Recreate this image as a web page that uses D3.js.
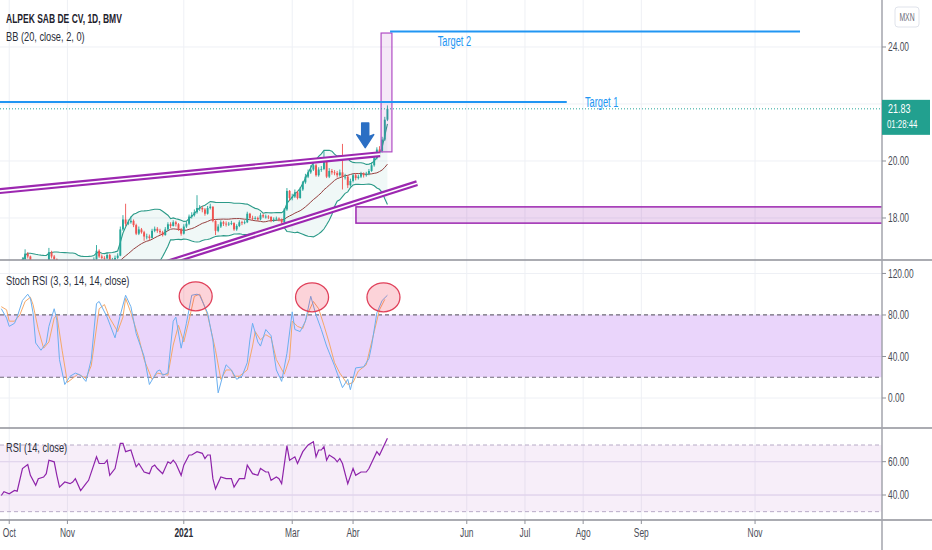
<!DOCTYPE html>
<html><head><meta charset="utf-8">
<script src="https://cdn.jsdelivr.net/npm/d3@7"></script>
<style>body{margin:0;background:#fff;} svg{display:block;font-family:"Liberation Sans",Arial,sans-serif;}</style>
</head><body><svg id="c" width="932" height="550"></svg>
<script>
// ---------------- DATA ----------------
const startDate = "2020-09-28";   // first bar (trading days, Mon-Fri)
const firstOpen = 16.08;
const closes = [
16.10,16.15,16.05,16.12,16.15, 16.15,16.10,16.35,16.55,16.75, 16.65,16.45,16.30,16.20,16.28,
16.30,16.32,16.40,16.80,16.65, 16.55,16.35,16.20,16.25,16.30, 16.25,16.20,16.28,16.35,16.30,
16.10,16.18,16.25,16.32,16.38, 16.55,16.85,16.65,16.60,16.58, 16.70,16.45,16.52,16.60,16.68,
17.60,17.95,17.80,17.85,17.90, 17.75,17.45,17.60,17.50,17.35, 17.35,17.30,17.55,17.62,17.55,
17.50,17.40,17.60,17.78,17.72, 17.85,17.78,17.60,17.45,17.70, 17.80,18.05,18.10,18.20,18.35,
18.35,18.30,18.15,18.35,18.40, 17.90,17.55,17.70,17.85,17.80, 17.78,17.80,17.82,17.60,17.72,
17.85,17.82,17.85,18.15,18.00, 17.98,18.00,17.95,18.10,18.05, 18.05,18.04,17.90,17.95,17.98,
17.95,17.85,18.30,18.95,18.70, 18.75,18.90,18.70,19.00,19.25, 19.45,19.60,19.70,19.85,19.50,
19.70,19.72,20.05,19.45,19.65, 19.60,19.58,19.50,19.60,19.45, 19.45,19.15,19.30,19.50,19.40,
19.45,19.55,19.50,19.55,19.65, 19.85,20.10,20.40,20.35,20.75, 21.45,21.83];
const highs = [
16.18,16.22,16.18,16.18,16.22, 16.22,16.20,16.42,16.62,16.90, 16.80,16.68,16.48,16.35,16.35,
16.36,16.40,16.46,16.95,16.85, 16.70,16.58,16.38,16.32,16.36, 16.35,16.30,16.34,16.42,16.40,
16.32,16.25,16.32,16.40,16.45, 16.62,17.05,16.90,16.72,16.66, 16.78,16.74,16.60,16.68,16.76,
17.70,18.10,18.50,17.95,18.05, 17.95,17.80,17.70,17.65,17.55, 17.45,17.42,17.62,17.70,17.68,
17.62,17.55,17.68,17.85,17.85, 17.92,17.90,17.82,17.65,17.78, 17.88,18.12,18.20,18.30,18.80,
18.45,18.42,18.35,18.42,18.50, 18.40,17.92,17.78,17.92,17.90, 17.88,17.86,17.90,17.85,17.78,
17.92,17.90,17.92,18.22,18.18, 18.08,18.06,18.05,18.18,18.15, 18.12,18.10,18.06,18.02,18.05,
18.02,17.98,18.35,19.05,18.98, 18.85,19.00,18.95,19.08,19.30, 19.55,19.70,19.85,19.95,19.90,
19.78,19.82,20.35,20.05,19.75, 19.72,19.68,19.65,19.70,20.60, 19.55,19.50,19.38,19.55,19.58,
19.52,19.62,19.60,19.62,19.72, 19.95,20.20,20.48,20.52,20.85, 21.55,21.95];
const lows = [
16.02,16.05,15.98,16.00,16.08, 16.08,16.05,16.08,16.30,16.50, 16.58,16.40,16.25,16.15,16.18,
16.22,16.25,16.28,16.38,16.58, 16.50,16.30,16.15,16.15,16.22, 16.18,16.14,16.18,16.25,16.24,
16.05,16.06,16.15,16.22,16.28, 16.35,16.52,16.60,16.55,16.50, 16.55,16.40,16.42,16.48,16.56,
16.66,17.55,17.72,17.75,17.80, 17.68,17.40,17.40,17.45,17.20, 17.25,17.22,17.28,17.50,17.48,
17.42,17.35,17.38,17.55,17.65, 17.70,17.70,17.55,17.38,17.42, 17.65,17.75,17.98,18.05,18.15,
18.25,18.20,18.08,18.12,18.30, 17.85,17.40,17.50,17.65,17.72, 17.70,17.72,17.75,17.55,17.55,
17.68,17.75,17.78,17.82,17.95, 17.92,17.94,17.90,17.92,18.00, 17.98,17.96,17.85,17.86,17.90,
17.88,17.80,17.82,18.25,18.60, 18.62,18.70,18.65,18.68,18.95, 19.20,19.40,19.55,19.65,19.45,
19.45,19.62,19.68,19.40,19.40, 19.52,19.50,19.42,19.45,19.00, 19.35,19.05,19.10,19.25,19.32,
19.35,19.40,19.42,19.45,19.50, 19.62,19.80,20.05,20.25,20.30, 20.70,21.40];

// Stoch RSI %K / %D and RSI, as [bar index, value]
const stochK = [[0,86],[2,77],[3,69],[5,72],[6,78],[8,94],[10,100],[11,96],[12,82],[13,53],[15,46],[17,53],[18,69],[20,86],[21,75],[22,37],[24,13],[26,21],[28,24],[30,22],[32,16],[34,37],[36,91],[37,93],[40,78],[43,58],[45,80],[47,99],[49,88],[51,62],[54,40],[56,13],[59,26],[60,27],[61,22],[63,24],[65,74],[66,78],[68,48],[70,72],[72,99],[74,100],[75,99],[78,82],[80,56],[82,5],[84,24],[85,32],[87,27],[89,18],[91,21],[93,34],[94,56],[95,72],[97,54],[98,50],[100,66],[102,60],[104,27],[106,16],[108,43],[110,83],[111,66],[113,64],[115,74],[117,98],[119,80],[121,66],[123,50],[126,31],[127,24],[129,10],[131,18],[132,8],[134,29],[137,30],[139,38],[140,50],[142,82],[144,94],[146,99]];
const stochD = [[0,88],[2,85],[3,74],[5,74],[7,80],[9,93],[11,97],[12,90],[14,66],[16,48],[18,54],[20,77],[21,80],[23,46],[25,15],[27,19],[29,23],[32,19],[34,31],[37,86],[39,90],[41,77],[44,64],[46,78],[47,96],[49,82],[52,58],[54,37],[57,18],[59,24],[61,23],[63,22],[65,51],[67,70],[69,54],[71,75],[73,98],[75,100],[76,94],[78,80],[81,46],[83,18],[85,27],[87,27],[88,21],[90,21],[93,27],[95,50],[96,64],[98,56],[100,61],[102,58],[104,37],[107,23],[109,38],[110,74],[112,69],[114,67],[116,82],[118,93],[120,86],[122,70],[124,53],[126,34],[128,24],[131,13],[133,15],[135,26],[138,32],[139,43],[141,64],[143,85],[145,95]];
const rsi = [[0,39.7],[1,42],[3,40.7],[5,42.7],[6,42.3],[8,55.9],[10,58.3],[11,51.8],[13,45.8],[14,49.8],[16,50.8],[17,52.8],[18,60.9],[20,59.9],[21,51.8],[22,44.7],[24,47.8],[26,46.8],[27,47.8],[28,49.8],[30,42.7],[32,46.8],[33,48.8],[36,62.9],[37,58.9],[39,58.9],[40,60.9],[41,51.8],[43,55.9],[45,71],[46,71],[47,66],[49,67],[51,56.9],[52,58.9],[54,53.8],[56,52.8],[57,56.9],[58,57.9],[59,55.9],[61,52.8],[63,59.9],[64,58.9],[65,60.9],[66,58.9],[68,51.8],[69,57.9],[71,64],[72,64],[74,66],[76,65],[77,61.9],[78,64],[79,64],[80,49.8],[81,43.7],[83,50.8],[85,49.8],[87,49.8],[88,44.7],[90,49.8],[92,49.8],[93,57.9],[95,52.8],[97,51.8],[98,55.9],[100,53.8],[101,53.8],[102,48.8],[104,50.8],[105,49.8],[106,46.8],[108,69.6],[109,60.9],[111,62.9],[112,58.9],[114,66],[116,70],[118,72],[119,62.9],[120,67],[121,67],[122,69],[123,60.9],[124,64],[126,61.9],[127,59.9],[128,61.9],[129,58.9],[131,46.8],[133,55.9],[134,51.8],[136,53.8],[138,53.8],[139,55.9],[142,66],[143,64],[146,74]];

const priceTicks = [18, 20, 22, 24];
const stochTicks = [0, 40, 80, 120];
const rsiTicks = [40, 60];
const stochBands = [20, 80];
const rsiBands = [30, 70];
const timeTicks = [["2020-10-01","Oct"],["2020-11-01","Nov"],["2021-01-01","2021"],["2021-03-01","Mar"],["2021-04-01","Abr"],["2021-06-01","Jun"],["2021-07-01","Jul"],["2021-08-01","Ago"],["2021-09-01","Sep"],["2021-11-01","Nov"]];
// drawings (bar index / price)
const lastPrice = 21.83;
const target1 = {price: 22.07, from: -2, to: 213.8, labelAt: 220.7, label: "Target 1"};
const target2 = {price: 24.54, from: 147, to: 302, labelAt: 165, label: "Target 2"};
const upperTrend = [[-1, 18.94], [143.2, 20.24]];
const lowerTrend = [[55, 16.20], [157.2, 19.22]];
const boxUp = {i0: 143.6, i1: 147.7, p0: 20.32, p1: 24.49};
const boxLow = {i0: 134.1, i1: 340, p0: 17.82, p1: 18.39};
const arrowMark = {i: 137.6, top: 21.33, tip: 20.47};
const circles = [{i: 73.5, v: 98}, {i: 117.5, v: 97}, {i: 144.5, v: 97}];

// ---------------- CHART ----------------
const svg = d3.select("#c");
const W = 932, AX = 882;
const P = {top: 0, bot: 260}, S = {top: 261, bot: 428}, R = {top: 428, bot: 520};
const parse = d3.timeParse("%Y-%m-%d");
const start = parse(startDate);
const idxOf = d => d3.timeDay.range(start, d).filter(t => t.getDay() !== 0 && t.getDay() !== 6).length;

const x = d3.scaleLinear().domain([0, 333]).range([1.3, AX]);
const y = d3.scaleLinear().domain([16.526, 25.649]).range([P.bot, P.top]);
const ys = d3.scaleLinear().domain([-28.9, 132]).range([S.bot, S.top]);
const yr = d3.scaleLinear().domain([25, 80.2]).range([R.bot, R.top]);

const bars = closes.map((c, i) => ({i, o: i === 0 ? firstOpen : closes[i-1], h: highs[i], l: lows[i], c}));
// Bollinger Bands (20, 2)
const bb = closes.map((c, i) => {
  const w = closes.slice(Math.max(0, i - 19), i + 1);
  const m = d3.mean(w);
  const sd = Math.sqrt(d3.mean(w, v => (v - m) * (v - m)));
  return {i, m, u: m + 2 * sd, l: m - 2 * sd};
});

const defs = svg.append("defs");
[["cp", P], ["cs", S], ["cr", R]].forEach(([id, p]) =>
  defs.append("clipPath").attr("id", id).append("rect").attr("x", 0).attr("y", p.top).attr("width", AX).attr("height", p.bot - p.top));

function condense(sel, f = 0.74) {
  sel.each(function () {
    const w = this.getComputedTextLength();
    d3.select(this).attr("textLength", w * f).attr("lengthAdjust", "spacingAndGlyphs");
  });
  return sel;
}

const grid = "#eef0f5";
const tickIdx = timeTicks.map(([d, l]) => ({i: idxOf(parse(d)), l}));
svg.append("g").selectAll("line").data(tickIdx).join("line")
  .attr("x1", d => x(d.i)).attr("x2", d => x(d.i)).attr("y1", 0).attr("y2", R.bot)
  .attr("stroke", grid).attr("stroke-width", 1);
svg.append("g").selectAll("line").data(priceTicks).join("line")
  .attr("x1", 0).attr("x2", AX).attr("y1", d => y(d)).attr("y2", d => y(d)).attr("stroke", grid);
svg.append("g").selectAll("line").data(stochTicks).join("line")
  .attr("x1", 0).attr("x2", AX).attr("y1", d => ys(d)).attr("y2", d => ys(d)).attr("stroke", grid);
svg.append("g").selectAll("line").data(rsiTicks).join("line")
  .attr("x1", 0).attr("x2", AX).attr("y1", d => yr(d)).attr("y2", d => yr(d)).attr("stroke", "#e6e0ef");

// ---- main pane ----
const gp = svg.append("g").attr("clip-path", "url(#cp)");
gp.append("path").datum(bb)
  .attr("d", d3.area().x(d => x(d.i)).y0(d => y(d.l)).y1(d => y(d.u)))
  .attr("fill", "rgba(38,153,138,0.07)");
const bLine = k => d3.line().x(d => x(d.i)).y(d => y(d[k]));
gp.append("path").datum(bb).attr("d", bLine("u")).attr("fill", "none").attr("stroke", "#2b9a88").attr("stroke-width", 1.1);
gp.append("path").datum(bb).attr("d", bLine("l")).attr("fill", "none").attr("stroke", "#2b9a88").attr("stroke-width", 1.1);
gp.append("path").datum(bb).attr("d", bLine("m")).attr("fill", "none").attr("stroke", "#96403f").attr("stroke-width", 1);

const up = "#26a69a", dn = "#ef5350";
const cg = gp.append("g");
cg.selectAll("line").data(bars).join("line")
  .attr("x1", d => x(d.i)).attr("x2", d => x(d.i)).attr("y1", d => y(d.h)).attr("y2", d => y(d.l))
  .attr("stroke", d => d.c >= d.o ? up : dn).attr("stroke-width", 0.9);
cg.selectAll("rect").data(bars).join("rect")
  .attr("x", d => x(d.i) - 0.95).attr("width", 1.9)
  .attr("y", d => y(Math.max(d.o, d.c))).attr("height", d => Math.max(0.8, Math.abs(y(d.o) - y(d.c))))
  .attr("fill", d => d.c >= d.o ? up : dn);

const tl = d3.line().x(d => x(d[0])).y(d => y(d[1]));
[upperTrend, lowerTrend].forEach(t => {
  gp.append("path").datum(t).attr("d", tl).attr("stroke", "#9c27b0").attr("stroke-width", 6).attr("fill", "none");
  gp.append("path").datum(t).attr("d", tl).attr("stroke", "#fff").attr("stroke-width", 1.6).attr("fill", "none");
});
gp.append("rect").attr("x", x(boxLow.i0)).attr("width", x(boxLow.i1) - x(boxLow.i0))
  .attr("y", y(boxLow.p1)).attr("height", y(boxLow.p0) - y(boxLow.p1))
  .attr("fill", "rgba(156,39,176,0.18)").attr("stroke", "#9c27b0").attr("stroke-width", 1.5);
gp.append("rect").attr("x", x(boxUp.i0)).attr("width", x(boxUp.i1) - x(boxUp.i0))
  .attr("y", y(boxUp.p1)).attr("height", y(boxUp.p0) - y(boxUp.p1))
  .attr("fill", "rgba(156,39,176,0.1)").attr("stroke", "#b04cc4").attr("stroke-width", 1.2);
gp.append("line").attr("x1", 0).attr("x2", AX).attr("y1", y(lastPrice)).attr("y2", y(lastPrice))
  .attr("stroke", "#26a69a").attr("stroke-width", 1).attr("stroke-dasharray", "1,2");
[target1, target2].forEach(t => {
  gp.append("line").attr("x1", x(t.from)).attr("x2", x(t.to)).attr("y1", y(t.price)).attr("y2", y(t.price))
    .attr("stroke", "#2196f3").attr("stroke-width", 2);
});
condense(gp.append("text").attr("x", x(target1.labelAt)).attr("y", y(target1.price) + 5).text(target1.label)
  .attr("fill", "#2196f3").attr("font-size", 14), 0.66);
condense(gp.append("text").attr("x", x(target2.labelAt)).attr("y", y(target2.price) + 14).text(target2.label)
  .attr("fill", "#2196f3").attr("font-size", 14), 0.66);
{
  const ax = x(arrowMark.i), t0 = y(arrowMark.top), t1 = y(arrowMark.tip);
  const hs = t1 - 11;
  gp.append("path").attr("d", `M${ax-3.5},${t0} L${ax+3.5},${t0} L${ax+3.5},${hs} L${ax+8.5},${hs-2} L${ax},${t1} L${ax-8.5},${hs-2} L${ax-3.5},${hs} Z`)
    .attr("fill", "#2b6fc4").attr("stroke", "#2b6fc4").attr("stroke-width", 1.5).attr("stroke-linejoin", "round");
}

// ---- Stoch RSI pane ----
const gs = svg.append("g").attr("clip-path", "url(#cs)");
gs.append("rect").attr("x", 0).attr("width", AX).attr("y", ys(stochBands[1])).attr("height", ys(stochBands[0]) - ys(stochBands[1]))
  .attr("fill", "#ead5fb");
gs.append("line").attr("x1", 0).attr("x2", AX).attr("y1", ys(40)).attr("y2", ys(40)).attr("stroke", "#ddc8ee");
stochBands.forEach(b => gs.append("line").attr("x1", 0).attr("x2", AX).attr("y1", ys(b)).attr("y2", ys(b))
  .attr("stroke", "#6f6a78").attr("stroke-width", 1.2).attr("stroke-dasharray", "4,3"));
const sl = d3.line().x(d => x(d[0])).y(d => ys(d[1]));
gs.append("path").datum(stochD).attr("d", sl).attr("fill", "none").attr("stroke", "#f5a868").attr("stroke-width", 1);
gs.append("path").datum(stochK).attr("d", sl).attr("fill", "none").attr("stroke", "#6aaff0").attr("stroke-width", 1);
gs.selectAll("ellipse").data(circles).join("ellipse")
  .attr("cx", d => x(d.i)).attr("cy", d => ys(d.v)).attr("rx", 16.5).attr("ry", 14.5)
  .attr("fill", "rgba(242,54,80,0.22)").attr("stroke", "#e0405a").attr("stroke-width", 1.3);

// ---- RSI pane ----
const gr = svg.append("g").attr("clip-path", "url(#cr)");
gr.append("rect").attr("x", 0).attr("width", AX).attr("y", yr(rsiBands[1])).attr("height", yr(rsiBands[0]) - yr(rsiBands[1]))
  .attr("fill", "rgba(156,39,176,0.08)");
rsiTicks.forEach(t => gr.append("line").attr("x1", 0).attr("x2", AX).attr("y1", yr(t)).attr("y2", yr(t)).attr("stroke", "#e2d6ee"));
rsiBands.forEach(b => gr.append("line").attr("x1", 0).attr("x2", AX).attr("y1", yr(b)).attr("y2", yr(b))
  .attr("stroke", "#b7aac6").attr("stroke-width", 1).attr("stroke-dasharray", "4,3"));
gr.append("path").datum(rsi).attr("d", d3.line().x(d => x(d[0])).y(d => yr(d[1])))
  .attr("fill", "none").attr("stroke", "#8e24aa").attr("stroke-width", 1.2);

// ---- separators & axes ----
const sep = "#8f9199";
[P.bot, R.top, R.bot].forEach(v => svg.append("line").attr("x1", 0).attr("x2", W).attr("y1", v).attr("y2", v)
  .attr("stroke", sep).attr("stroke-width", 1.5));
svg.append("line").attr("x1", AX).attr("x2", AX).attr("y1", 0).attr("y2", 550).attr("stroke", "#a3a5ad").attr("stroke-width", 1.5);

const tc = "#4a4d57";
function rAxis(scale, ticks, skip) {
  const g = svg.append("g");
  ticks.forEach(t => {
    g.append("line").attr("x1", AX).attr("x2", AX + 4).attr("y1", scale(t)).attr("y2", scale(t)).attr("stroke", "#8f9199");
    if (skip && skip(t)) return;
    condense(g.append("text").attr("x", AX + 6).attr("y", scale(t)).attr("dy", "0.35em").text(d3.format(".2f")(t))
      .attr("fill", tc).attr("font-size", 12), 0.7);
  });
}
// the 22.00 label sits under the last-price badge
rAxis(y, priceTicks, t => Math.abs(y(t) - y(lastPrice)) < 14);
rAxis(ys, stochTicks);
rAxis(yr, rsiTicks);

tickIdx.forEach(d => {
  svg.append("line").attr("x1", x(d.i)).attr("x2", x(d.i)).attr("y1", R.bot).attr("y2", R.bot + 4).attr("stroke", "#8f9199");
  condense(svg.append("text").attr("x", x(d.i)).attr("y", 537).attr("text-anchor", "middle").text(d.l)
    .attr("fill", d.l === "2021" ? "#2a2e39" : tc).attr("font-size", 12).attr("font-weight", d.l === "2021" ? "bold" : "normal"), 0.7);
});

// last price badge
svg.append("rect").attr("x", AX).attr("y", y(lastPrice) - 9).attr("width", 48).attr("height", 35).attr("fill", "#22a08f");
condense(svg.append("text").attr("x", AX + 6).attr("y", y(lastPrice) + 4).text(d3.format(".2f")(lastPrice))
  .attr("fill", "#fff").attr("font-size", 12.5), 0.72);
condense(svg.append("text").attr("x", AX + 5).attr("y", y(lastPrice) + 19).text("01:28:44")
  .attr("fill", "#fff").attr("font-size", 11.5), 0.68);

svg.append("rect").attr("x", 895).attr("y", 7).attr("width", 24).attr("height", 20).attr("rx", 3)
  .attr("fill", "#fff").attr("stroke", "#e0e3eb");
condense(svg.append("text").attr("x", 907).attr("y", 21).attr("text-anchor", "middle").text("MXN")
  .attr("fill", "#6a6d78").attr("font-size", 10), 0.68);

condense(svg.append("text").attr("x", 6).attr("y", 23).text("ALPEK SAB DE CV, 1D, BMV")
  .attr("fill", "#1e222d").attr("font-size", 12.5).attr("font-weight", "bold"), 0.68);
condense(svg.append("text").attr("x", 6).attr("y", 41).text("BB (20, close, 2, 0)")
  .attr("fill", "#2a2e39").attr("font-size", 12.5), 0.74);
condense(svg.append("text").attr("x", 6).attr("y", 285).text("Stoch RSI (3, 3, 14, 14, close)")
  .attr("fill", "#2a2e39").attr("font-size", 12.5), 0.74);
condense(svg.append("text").attr("x", 6).attr("y", 452).text("RSI (14, close)")
  .attr("fill", "#2a2e39").attr("font-size", 12.5), 0.74);
</script></body></html>
